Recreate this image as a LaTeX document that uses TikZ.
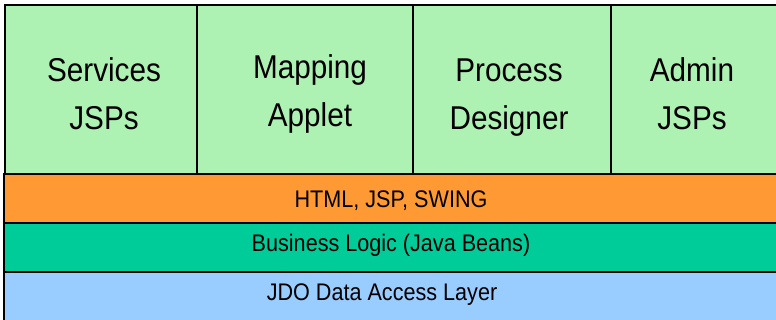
\documentclass[tikz,border=0pt]{standalone}
\usepackage{fontspec}
\setmainfont{Liberation Sans}[FakeStretch=0.9]
\definecolor{appgreen}{RGB}{173,242,179}
\definecolor{uiorange}{RGB}{255,153,51}
\definecolor{logicgreen}{RGB}{0,204,153}
\definecolor{datablue}{RGB}{153,204,255}
\begin{document}
\begin{tikzpicture}[x=1pt,y=-1pt,
    cell/.style={font=\fontsize{33}{48}\selectfont,align=center},
    bar/.style={font=\fontsize{24}{28}\selectfont,anchor=base}]
      \useasboundingbox (0,0) rectangle (776,320);
      \coordinate (t1) at (5,5);
      \coordinate (t2) at (197,5);
      \coordinate (t3) at (413,5);
      \coordinate (t4) at (611,5);
      \coordinate (t5) at (780,5);
      \coordinate (b0) at (4,174);
      \coordinate (b1) at (4,223);
      \coordinate (b2) at (4,272);
      \coordinate (b3) at (4,330);
      \coordinate (e1) at (780,223);
      \coordinate (e2) at (780,272);
      \coordinate (e3) at (780,330);
      \coordinate (e0) at (780,174);

      \draw[line width=1.2pt,fill=appgreen] (t1) rectangle (t5 |- b0);
      \draw[line width=1.2pt] (t2) -- (t2 |- b0);
      \draw[line width=1.2pt] (t3) -- (t3 |- b0);
      \draw[line width=1.2pt] (t4) -- (t4 |- b0);
      \draw[line width=1.2pt,fill=uiorange] (b0) rectangle (e1);
      \draw[line width=1.2pt,fill=logicgreen] (b1) rectangle (e2);
      \draw[line width=1.2pt,fill=datablue] (b2) rectangle (e3);

      \node[cell] (services) at (104,94) {Services\\JSPs};
      \node[cell] (mapping) at (310,94) {Mapping\\Applet};
      \node[cell] (process) at (509,97.5) {Process\\Designer};
      \node[cell] (admin) at (692,94) {Admin\\JSPs};
      \node[bar] (ui) at (391,208) {HTML, JSP, SWING};
      \node[bar] (logic) at (391,252) {Business Logic (Java Beans)};
      \node[bar] (data) at (382,301) {JDO Data Access Layer};
    \end{tikzpicture}
\end{document}
